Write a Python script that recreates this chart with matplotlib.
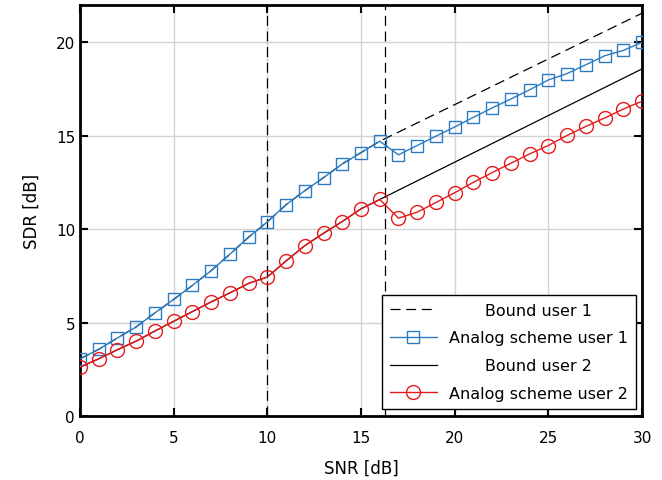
import matplotlib
matplotlib.use("Agg")
import matplotlib.pyplot as plt

snr = list(range(31))
sdr_user1 = [3.06, 3.57, 4.18, 4.77, 5.52, 6.24, 6.99, 7.78, 8.66, 9.57, 10.39,
             11.31, 12.06, 12.76, 13.49, 14.10, 14.71, 13.98, 14.48, 14.98, 15.47,
             15.99, 16.49, 16.97, 17.46, 17.99, 18.33, 18.80, 19.28, 19.57, 20.00]
sdr_user2 = [2.62, 3.06, 3.55, 4.01, 4.55, 5.07, 5.59, 6.11, 6.59, 7.10, 7.44,
             8.30, 9.12, 9.78, 10.41, 11.09, 11.59, 10.59, 10.91, 11.43, 11.95,
             12.51, 13.03, 13.53, 14.03, 14.48, 15.02, 15.50, 15.95, 16.43, 16.85]
bound_snr = snr[:17] + [30]
bound_user1 = sdr_user1[:17] + [21.56]
bound_user2 = sdr_user2[:17] + [18.58]
thresholds = [10, 16.3]

blue = "#2a7bc2"
red = "#e41a1c"
dash = (0, (8, 4.5))

fig = plt.figure(figsize=(6.62, 4.81), dpi=100)
ax = fig.add_axes([0.1208, 0.133, 0.849, 0.8545])

for t in thresholds:
    ax.axvline(t, color="black", lw=0.9, ls=dash, zorder=2)

ax.plot(bound_snr, bound_user1, color="black", lw=0.9, ls=dash, label="       Bound user 1", zorder=3)
ax.plot(snr, sdr_user1, color=blue, lw=1, marker="s", ms=8, mfc="none", mec=blue, mew=1,
        label="Analog scheme user 1", zorder=4)
ax.plot(bound_snr, bound_user2, color="black", lw=0.9, label="       Bound user 2", zorder=3)
ax.plot(snr, sdr_user2, color=red, lw=1, marker="o", ms=10, mfc="none", mec=red, mew=1,
        label="Analog scheme user 2", zorder=4)

ax.set_xlim(0, 30)
ax.set_ylim(0, 22)
ax.set_xticks([0, 5, 10, 15, 20, 25, 30])
ax.set_yticks([0, 5, 10, 15, 20])
ax.grid(True, color="#d3d3d3", lw=1)
ax.set_axisbelow(True)
ax.tick_params(direction="in", length=6, width=1.5, top=True, right=True, labelsize=11)
ax.tick_params(axis="x", pad=10)
for s in ax.spines.values():
    s.set_linewidth(2)
ax.set_xlabel("SNR [dB]", fontsize=12, labelpad=10)
ax.set_ylabel("SDR [dB]", fontsize=12, labelpad=11)

leg = ax.legend(loc="lower right", bbox_to_anchor=(0.99, 0.017), fontsize=11.5,
                fancybox=False, edgecolor="black", framealpha=1, handlelength=2.9,
                borderaxespad=0, labelspacing=0.8, borderpad=0.5)
leg.get_frame().set_linewidth(1)

fig.savefig("out.png", dpi=100)
